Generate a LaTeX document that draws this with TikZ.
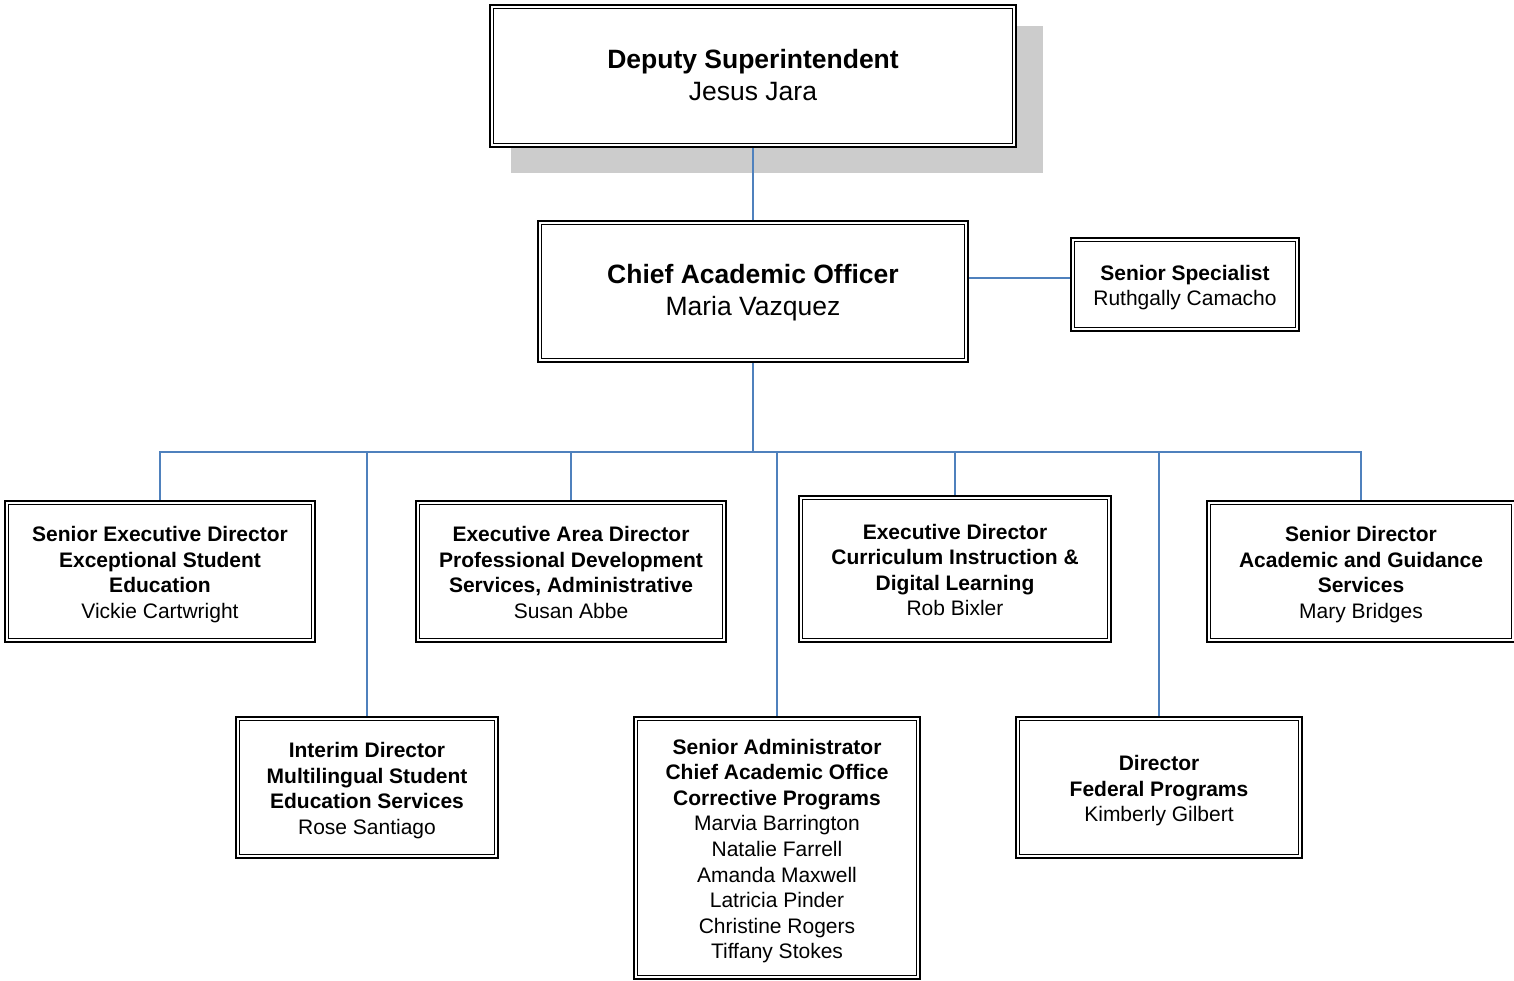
\documentclass[tikz,border=0pt]{standalone}
\usepackage{fontspec}
\setmainfont{Liberation Sans}
\newcommand\topS{\rule{0pt}{22pt}}
\newcommand\topB{\rule{0pt}{23pt}}
\begin{document}
\begin{tikzpicture}[x=1pt,y=-1pt,
  boxbase/.style={draw=black, double=white, line width=1.4pt, double distance=2.4pt,
    fill=white, outer sep=2.6pt, inner sep=0pt, align=center},
  box/.style={boxbase, font=\fontsize{21}{25.6}\selectfont,
    execute at end node={\rule[-5pt]{0pt}{5pt}}},
  bigbox/.style={boxbase, font=\fontsize{26.5}{32}\selectfont,
    execute at end node={\rule[-6pt]{0pt}{6pt}}},
  conn/.style={draw={rgb,255:red,79;green,129;blue,189}, line width=1.4pt}]
\useasboundingbox (0,0) rectangle (1514,981);
% shadow
\fill[gray!40] (511,26) rectangle (1043,173);
% nodes
\node[bigbox, minimum width=522.5pt, minimum height=138.5pt] (dep) at (753,76)
  {\topB\textbf{Deputy Superintendent}\\Jesus Jara};
\node[bigbox, minimum width=426.5pt, minimum height=137.5pt] (cao) at (753,291.5)
  {\topB\textbf{Chief Academic Officer}\\Maria Vazquez};
\node[box, minimum width=224.5pt, minimum height=89.5pt] (ss) at (1185,284.5)
  {\topS\textbf{Senior Specialist}\\Ruthgally Camacho};
\node[box, minimum width=306.5pt, minimum height=137.5pt] (sed) at (160,571.5)
  {\topS\textbf{Senior Executive Director}\\\textbf{Exceptional Student}\\\textbf{Education}\\Vickie Cartwright};
\node[box, minimum width=306.5pt, minimum height=137.5pt] (ead) at (571,571.5)
  {\topS\textbf{Executive Area Director}\\\textbf{Professional Development}\\\textbf{Services, Administrative}\\Susan Abbe};
\node[box, minimum width=308.5pt, minimum height=142.5pt] (ed) at (955,569)
  {\topS\textbf{Executive Director}\\\textbf{Curriculum Instruction \&}\\\textbf{Digital Learning}\\Rob Bixler};
\node[box, minimum width=304.5pt, minimum height=137.5pt] (sd) at (1361,571.5)
  {\topS\textbf{Senior Director}\\\textbf{Academic and Guidance}\\\textbf{Services}\\Mary Bridges};
\node[box, minimum width=258.5pt, minimum height=137.5pt] (int) at (367,787.5)
  {\topS\textbf{Interim Director}\\\textbf{Multilingual Student}\\\textbf{Education Services}\\Rose Santiago};
\node[box, minimum width=282.5pt, minimum height=258.5pt] (sa) at (777,848)
  {\topS\textbf{Senior Administrator}\\\textbf{Chief Academic Office}\\\textbf{Corrective Programs}\\Marvia Barrington\\Natalie Farrell\\Amanda Maxwell\\Latricia Pinder\\Christine Rogers\\Tiffany Stokes};
\node[box, minimum width=282.5pt, minimum height=137.5pt] (df) at (1159,787.5)
  {\topS\textbf{Director}\\\textbf{Federal Programs}\\Kimberly Gilbert};
% connectors
\coordinate (bus) at (753,452);
\draw[conn] (dep.south) -- (cao.north);
\draw[conn] (cao.east |- 0,278) -- (ss.west |- 0,278);
\draw[conn] (cao.south) -- (bus);
\foreach \c in {sed,ead,ed,sd,int,sa,df}
  \draw[conn] (bus) -| (\c.north);
\end{tikzpicture}
\end{document}
